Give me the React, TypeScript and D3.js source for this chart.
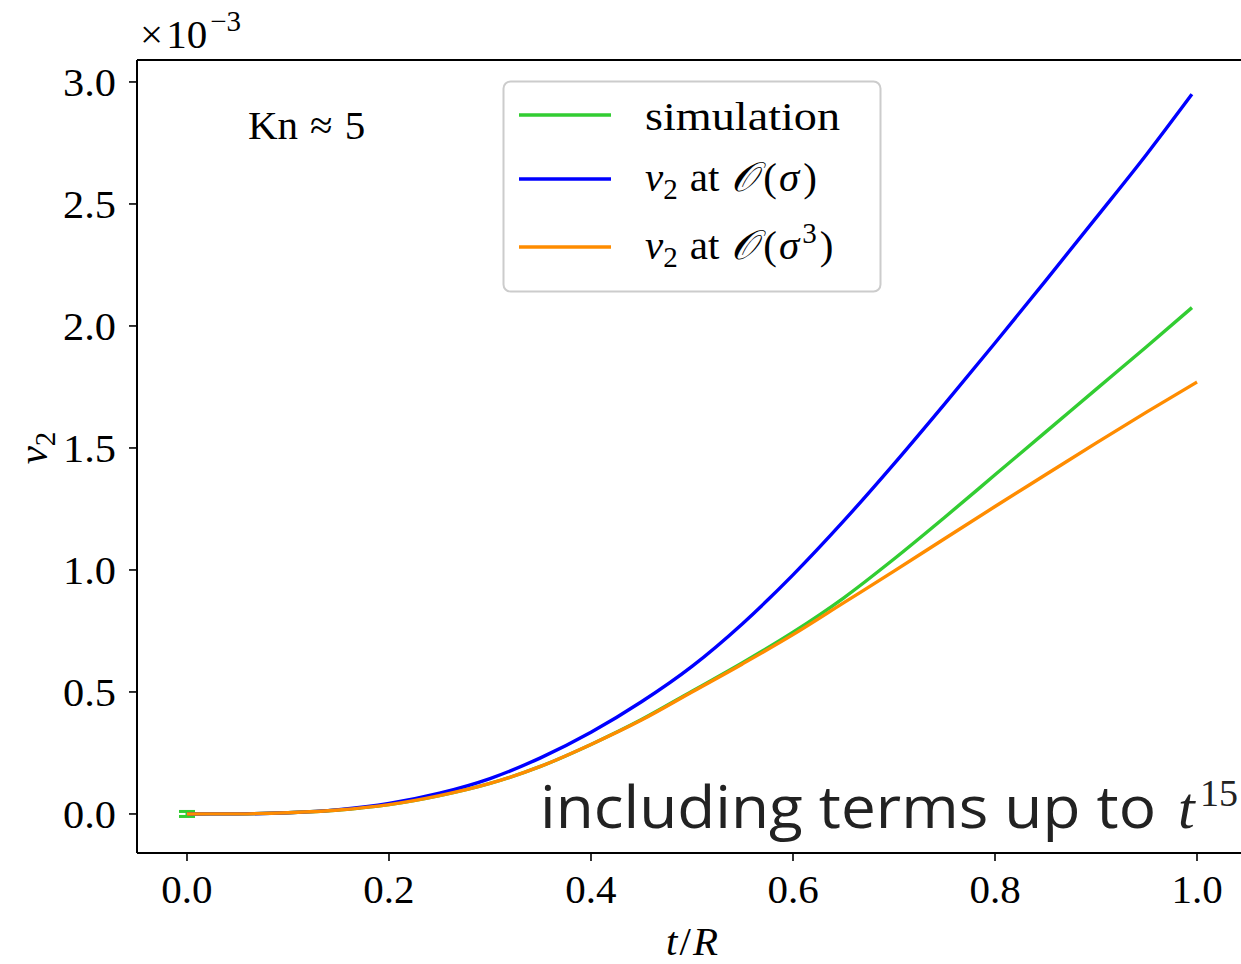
import React from "react";
import * as d3 from "d3";

const tSim = [0, 0.05, 0.1, 0.15, 0.2, 0.25, 0.3, 0.35, 0.4, 0.45, 0.5, 0.55, 0.6, 0.65, 0.7, 0.75, 0.8, 0.85, 0.9, 0.95, 0.995];
const simValues = [0, 0.0005, 0.005, 0.016, 0.038, 0.075, 0.125, 0.195, 0.285, 0.387, 0.503, 0.62, 0.745, 0.885, 1.045, 1.215, 1.39, 1.565, 1.74, 1.915, 2.075];

const tSigma1 = [0, 0.05, 0.1, 0.15, 0.2, 0.25, 0.3, 0.35, 0.4, 0.45, 0.5, 0.55, 0.6, 0.65, 0.7, 0.75, 0.8, 0.85, 0.9, 0.95, 0.995];
const sigma1Values = [0, 0.0005, 0.005, 0.018, 0.043, 0.085, 0.145, 0.23, 0.335, 0.46, 0.605, 0.78, 0.98, 1.2, 1.435, 1.68, 1.93, 2.185, 2.443, 2.703, 2.95];

const tSigma3 = [0, 0.05, 0.1, 0.15, 0.2, 0.25, 0.3, 0.35, 0.4, 0.45, 0.5, 0.55, 0.6, 0.65, 0.7, 0.75, 0.8, 0.85, 0.9, 0.95, 1.0];
const sigma3Values = [0, 0.0005, 0.005, 0.016, 0.038, 0.075, 0.125, 0.195, 0.285, 0.385, 0.5, 0.615, 0.735, 0.865, 0.995, 1.128, 1.26, 1.39, 1.52, 1.647, 1.77];

const xTicks = [0, 0.2, 0.4, 0.6, 0.8, 1.0];
const yTicks = [0, 0.5, 1.0, 1.5, 2.0, 2.5, 3.0];

const legendLabels = ["simulation", "sigma1", "sigma3"];
const colors = { sim: "#32cd32", s1: "#0000ff", s3: "#ff8c00" };

const W = 1241;
const H = 964;
const FONT = "'Liberation Serif', 'DejaVu Serif', serif";

export default function App() {
  const x = d3.scaleLinear().domain([-0.0495, 1.0495]).range([137, 1247]);
  const y = d3.scaleLinear().domain([-0.16, 3.09]).range([853, 60]);
  const line = d3
    .line<[number, number]>()
    .x((d) => x(d[0]))
    .y((d) => y(d[1]))
    .curve(d3.curveMonotoneX);

  const simPath = line(tSim.map((t, i) => [t, simValues[i]]) as [number, number][]) || "";
  const s1Path = line(tSigma1.map((t, i) => [t, sigma1Values[i]]) as [number, number][]) || "";
  const s3Path = line(tSigma3.map((t, i) => [t, sigma3Values[i]]) as [number, number][]) || "";

  const fs = 41;
  const legendY = [115, 179, 247];
  const legendColors = [colors.sim, colors.s1, colors.s3];

  const renderLegendText = (key: string, yy: number) => {
    if (key === "simulation") {
      return (
        <text x={645} y={yy + 15} fontSize={fs} fontFamily={FONT} fill="#000" textLength={195} lengthAdjust="spacingAndGlyphs">
          simulation
        </text>
      );
    }
    return (
      <text x={645} y={yy + 12} fontSize={fs} fontFamily={FONT} fill="#000">
        <tspan fontStyle="italic">v</tspan>
        <tspan fontSize={29} dy={8}>2</tspan>
        <tspan dy={-8} dx={12}>at</tspan>
        <tspan dx={12} fontStyle="italic" fontFamily="'DejaVu Serif', serif">𝒪</tspan>
        <tspan dx={6}>(</tspan>
        <tspan fontStyle="italic" dx={2}>σ</tspan>
        {key === "sigma3" ? (
          <>
            <tspan fontSize={29} dy={-16} dx={3}>3</tspan>
            <tspan dy={16} dx={3}>)</tspan>
          </>
        ) : (
          <tspan dx={4}>)</tspan>
        )}
      </text>
    );
  };

  return (
    <svg
      width={W}
      height={H}
      style={{ position: "absolute", left: 0, top: 0, background: "#fff" }}
    >
      <rect x={0} y={0} width={W} height={H} fill="#fff" />
      <defs>
        <clipPath id="plotclip">
          <rect x={137} y={60} width={1110} height={793} />
        </clipPath>
      </defs>

      {/* curves */}
      <g clipPath="url(#plotclip)" fill="none" strokeWidth={3.4} strokeLinejoin="round">
        <path d={simPath} stroke={colors.sim} />
        {/* error bar at t = 0 */}
        <g stroke={colors.sim} strokeWidth={3}>
          <line x1={x(0) - 8} x2={x(0) + 8} y1={y(0) - 2.5} y2={y(0) - 2.5} />
          <line x1={x(0) - 8} x2={x(0) + 8} y1={y(0) + 2.5} y2={y(0) + 2.5} />
          <line x1={x(0)} x2={x(0)} y1={y(0) - 2.5} y2={y(0) + 2.5} />
        </g>
        <path d={s1Path} stroke={colors.s1} />
        <path d={s3Path} stroke={colors.s3} />
      </g>

      {/* spines */}
      <g stroke="#000" strokeWidth={2} fill="none">
        <line x1={137} x2={137} y1={60} y2={853} />
        <line x1={137} x2={1247} y1={853} y2={853} />
        <line x1={137} x2={1247} y1={60} y2={60} />
      </g>

      {/* x ticks */}
      {xTicks.map((t) => (
        <g key={"x" + t}>
          <line x1={x(t)} x2={x(t)} y1={853} y2={861} stroke="#000" strokeWidth={1.6} />
          <text x={x(t)} y={903} textAnchor="middle" fontSize={fs} fontFamily={FONT}>
            {t.toFixed(1)}
          </text>
        </g>
      ))}

      {/* y ticks */}
      {yTicks.map((v) => (
        <g key={"y" + v}>
          <line x1={129} x2={137} y1={y(v)} y2={y(v)} stroke="#000" strokeWidth={1.6} />
          <text x={116} y={y(v) + 14} textAnchor="end" fontSize={fs} fontFamily={FONT} textLength={53} lengthAdjust="spacingAndGlyphs">
            {v.toFixed(1)}
          </text>
        </g>
      ))}

      {/* offset text */}
      <text x={140} y={48} fontSize={fs} fontFamily={FONT}>
        <tspan>×</tspan>
        <tspan dx={3}>10</tspan>
        <tspan fontSize={29} dy={-17} dx={3}>−3</tspan>
      </text>

      {/* axis labels */}
      <text x={692} y={955} textAnchor="middle" fontSize={fs} fontFamily={FONT}>
        <tspan fontStyle="italic">t</tspan>
        <tspan dx={2}>/</tspan>
        <tspan fontStyle="italic" dx={2}>R</tspan>
      </text>
      <text
        transform="translate(47,448) rotate(-90)"
        textAnchor="middle"
        fontSize={fs}
        fontFamily={FONT}
      >
        <tspan fontStyle="italic">v</tspan>
        <tspan fontSize={29} dy={8}>2</tspan>
      </text>

      {/* annotation */}
      <text x={248} y={139} fontSize={fs} fontFamily={FONT}>
        <tspan>Kn</tspan>
        <tspan dx={12}>≈</tspan>
        <tspan dx={12}>5</tspan>
      </text>

      {/* legend */}
      <rect
        x={503.5}
        y={81.5}
        width={377}
        height={210}
        rx={7}
        fill="#fff"
        fillOpacity={0.8}
        stroke="#cccccc"
        strokeWidth={2}
      />
      {legendLabels.map((k, i) => (
        <g key={k}>
          <line x1={519} x2={611} y1={legendY[i]} y2={legendY[i]} stroke={legendColors[i]} strokeWidth={3.4} />
          {renderLegendText(k, legendY[i])}
        </g>
      ))}

      {/* including terms */}
      <text x={540} y={828} fontSize={58} fontFamily="'Open Sans', 'Lato', sans-serif" fill="#222" textLength={616} lengthAdjust="spacingAndGlyphs">
        including terms up to
      </text>
      <text x={1178} y={828} fontSize={60} fontFamily={FONT} fontStyle="italic" fill="#222">
        t
      </text>
      <text x={1200} y={806} fontSize={38} fontFamily={FONT} fill="#222">
        15
      </text>
    </svg>
  );
}
